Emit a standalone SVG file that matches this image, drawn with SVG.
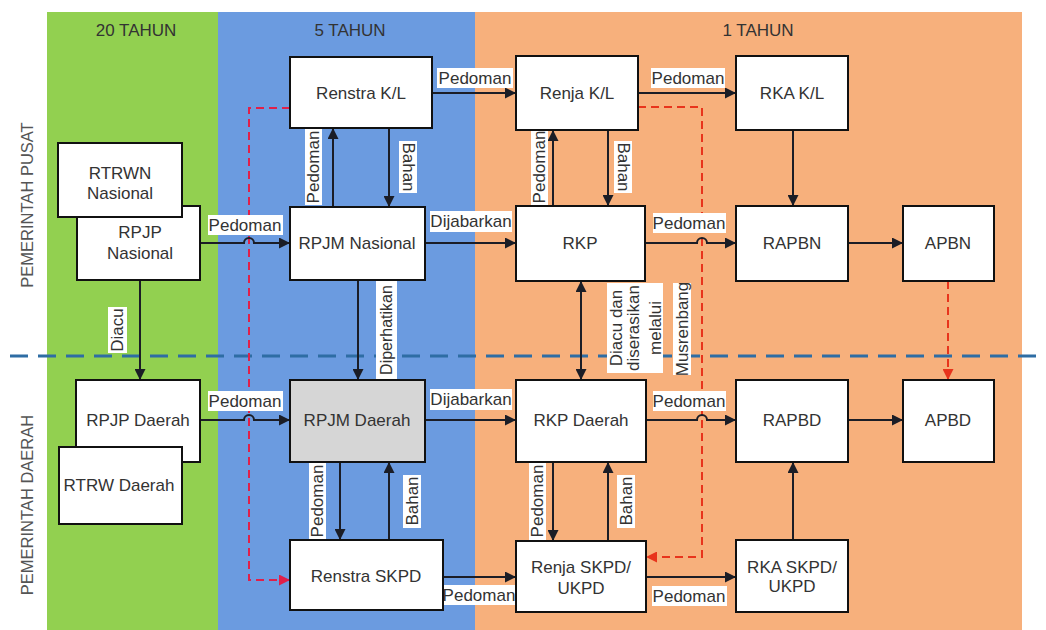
<svg xmlns="http://www.w3.org/2000/svg" width="1046" height="630" viewBox="0 0 1046 630">
<style>
.t{font-family:"Liberation Sans",Arial,sans-serif;font-size:17px;fill:#333;text-anchor:middle;dominant-baseline:central}
.side{font-family:"Liberation Sans",Arial,sans-serif;font-size:16.5px;fill:#555;text-anchor:middle;dominant-baseline:central}
.node rect{fill:#fff;stroke:#111;stroke-width:2}
.node rect.gray{fill:#d6d6d6}
.c{fill:none;stroke:#1b1d26;stroke-width:2}
.rd{fill:none;stroke-width:2;stroke-dasharray:8 5}
.lb{fill:#fff}
</style>
<defs>
<marker id="ah" viewBox="0 0 10 10" refX="10" refY="5" markerWidth="11" markerHeight="11" markerUnits="userSpaceOnUse" orient="auto-start-reverse"><path d="M0,0 L10,5 L0,10 z" fill="#1b1d26"/></marker>
<marker id="ahr" viewBox="0 0 10 10" refX="10" refY="5" markerWidth="11" markerHeight="11" markerUnits="userSpaceOnUse" orient="auto"><path d="M0,0 L10,5 L0,10 z" fill="#e8341c"/></marker>
<marker id="ahp" viewBox="0 0 10 10" refX="10" refY="5" markerWidth="11" markerHeight="11" markerUnits="userSpaceOnUse" orient="auto"><path d="M0,0 L10,5 L0,10 z" fill="#e0204a"/></marker>
</defs>

<g id="background">
<rect x="47" y="12" width="171" height="618" fill="#92d050"/>
<rect x="218" y="12" width="257" height="618" fill="#6b9be0"/>
<rect x="475" y="12" width="547" height="618" fill="#f7b07c"/>
<text class="t" x="136" y="30">20 TAHUN</text>
<text class="t" x="350" y="30">5 TAHUN</text>
<text class="t" x="758" y="30">1 TAHUN</text>
<text class="side" transform="translate(27,205) rotate(-90)">PEMERINTAH PUSAT</text>
<text class="side" transform="translate(27,505) rotate(-90)">PEMERINTAH DAERAH</text>
<line x1="10" y1="356" x2="1046" y2="356" stroke="#2e6da4" stroke-width="3" stroke-dasharray="18 10"/>
</g>

<g id="connectors">
<path class="rd" stroke="#e0204a" d="M290,108 H249 V580 H290" marker-end="url(#ahp)"/>
<path class="rd" stroke="#e8341c" d="M638,107 H702 V557 H646" marker-end="url(#ahr)"/>
<path class="rd" stroke="#e8341c" d="M948,281 V380" marker-end="url(#ahr)"/>
<path class="c" d="M432,93 H516" marker-end="url(#ah)"/>
<path class="c" d="M638,93 H736" marker-end="url(#ah)"/>
<path class="c" d="M333,207 V128" marker-end="url(#ah)"/>
<path class="c" d="M389,128 V207" marker-end="url(#ah)"/>
<path class="c" d="M553,206 V130" marker-end="url(#ah)"/>
<path class="c" d="M608,130 V206" marker-end="url(#ah)"/>
<path class="c" d="M200,243 H244 A5,5 0 0 1 254,243 H290" marker-end="url(#ah)"/>
<path class="c" d="M425,243 H516" marker-end="url(#ah)"/>
<path class="c" d="M645,243 H697 A5,5 0 0 1 707,243 H736" marker-end="url(#ah)"/>
<path class="c" d="M793,130 V206" marker-end="url(#ah)"/>
<path class="c" d="M848,243 H903" marker-end="url(#ah)"/>
<path class="c" d="M140,280 V380" marker-end="url(#ah)"/>
<path class="c" d="M358,280 V380" marker-end="url(#ah)"/>
<path class="c" d="M581,281 V380" marker-start="url(#ah)" marker-end="url(#ah)"/>
<path class="c" d="M200,420 H244 A5,5 0 0 1 254,420 H290" marker-end="url(#ah)"/>
<path class="c" d="M425,420 H516" marker-end="url(#ah)"/>
<path class="c" d="M646,420 H697 A5,5 0 0 1 707,420 H736" marker-end="url(#ah)"/>
<path class="c" d="M848,420 H903" marker-end="url(#ah)"/>
<path class="c" d="M340,462 V540" marker-end="url(#ah)"/>
<path class="c" d="M389,540 V462" marker-end="url(#ah)"/>
<path class="c" d="M553,462 V541" marker-end="url(#ah)"/>
<path class="c" d="M608,541 V462" marker-end="url(#ah)"/>
<path class="c" d="M793,540 V462" marker-end="url(#ah)"/>
<path class="c" d="M443,577 H516" marker-end="url(#ah)"/>
<path class="c" d="M646,577 H736" marker-end="url(#ah)"/>
</g>

<g id="connector-labels">
<rect class="lb" x="437" y="68" width="76" height="20"/><text class="t" x="475" y="78">Pedoman</text>
<rect class="lb" x="651" y="68" width="74" height="20"/><text class="t" x="688" y="78">Pedoman</text>
<rect class="lb" x="208" y="215" width="75" height="20"/><text class="t" x="245" y="225">Pedoman</text>
<rect class="lb" x="430" y="211" width="82" height="21"/><text class="t" x="471" y="221">Dijabarkan</text>
<rect class="lb" x="653" y="213" width="73" height="20"/><text class="t" x="689" y="223">Pedoman</text>
<rect class="lb" x="208" y="391" width="75" height="20"/><text class="t" x="245" y="401">Pedoman</text>
<rect class="lb" x="430" y="389" width="82" height="21"/><text class="t" x="471" y="399">Dijabarkan</text>
<rect class="lb" x="653" y="391" width="73" height="20"/><text class="t" x="689" y="401">Pedoman</text>
<rect class="lb" x="443" y="585" width="73" height="20"/><text class="t" x="479" y="595">Pedoman</text>
<rect class="lb" x="652" y="586" width="75" height="20"/><text class="t" x="689" y="596">Pedoman</text>
<rect class="lb" x="305" y="129" width="17" height="76"/><text class="t" transform="translate(313.5,167) rotate(-90)">Pedoman</text>
<rect class="lb" x="399" y="141" width="18" height="52"/><text class="t" transform="translate(408,167) rotate(90)">Bahan</text>
<rect class="lb" x="531" y="129" width="17" height="76"/><text class="t" transform="translate(539.5,167) rotate(-90)">Pedoman</text>
<rect class="lb" x="614" y="141" width="18" height="52"/><text class="t" transform="translate(623,167) rotate(90)">Bahan</text>
<rect class="lb" x="309" y="463" width="17" height="77"/><text class="t" transform="translate(317.5,501) rotate(-90)">Pedoman</text>
<rect class="lb" x="403" y="475" width="18" height="53"/><text class="t" transform="translate(412,501) rotate(-90)">Bahan</text>
<rect class="lb" x="529" y="463" width="17" height="77"/><text class="t" transform="translate(537.5,501) rotate(-90)">Pedoman</text>
<rect class="lb" x="617" y="475" width="18" height="53"/><text class="t" transform="translate(626,501) rotate(-90)">Bahan</text>
<rect class="lb" x="108" y="307" width="19" height="46"/><text class="t" transform="translate(117.5,330) rotate(-90)">Diacu</text>
<rect class="lb" x="376" y="280" width="21" height="100"/><text class="t" style="font-size:16px" transform="translate(386.5,330) rotate(-90)">Diperhatikan</text>
<rect class="lb" x="607" y="283" width="56" height="90"/>
<rect class="lb" x="673" y="283" width="18" height="92"/>
<text class="t" transform="translate(616,328) rotate(-90)">Diacu dan</text>
<text class="t" transform="translate(633,328) rotate(-90)">diserasikan</text>
<text class="t" transform="translate(655,328) rotate(-90)">melalui</text>
<text class="t" transform="translate(682,329) rotate(-90)">Musrenbang</text>
</g>

<g id="n-rpjp-nasional" class="node"><rect x="77" y="206" width="123" height="74"/><text class="t" x="140" y="232">RPJP</text><text class="t" x="140" y="253">Nasional</text></g>
<g id="n-rtrwn-nasional" class="node"><rect x="58" y="143" width="124" height="74"/><text class="t" x="120" y="173">RTRWN</text><text class="t" x="120" y="193">Nasional</text></g>
<g id="n-renstra-kl" class="node"><rect x="290" y="57" width="142" height="71"/><text class="t" x="361" y="93">Renstra K/L</text></g>
<g id="n-rpjm-nasional" class="node"><rect x="290" y="207" width="135" height="73"/><text class="t" x="357" y="243">RPJM Nasional</text></g>
<g id="n-renja-kl" class="node"><rect x="516" y="56" width="122" height="74"/><text class="t" x="577" y="93">Renja K/L</text></g>
<g id="n-rkp" class="node"><rect x="516" y="206" width="129" height="75"/><text class="t" x="580" y="243">RKP</text></g>
<g id="n-rka-kl" class="node"><rect x="736" y="56" width="112" height="74"/><text class="t" x="792" y="93">RKA K/L</text></g>
<g id="n-rapbn" class="node"><rect x="736" y="206" width="112" height="75"/><text class="t" x="792" y="243">RAPBN</text></g>
<g id="n-apbn" class="node"><rect x="903" y="206" width="91" height="75"/><text class="t" x="948" y="243">APBN</text></g>
<g id="n-rpjp-daerah" class="node"><rect x="76" y="380" width="124" height="82"/><text class="t" x="138" y="420">RPJP Daerah</text></g>
<g id="n-rtrw-daerah" class="node"><rect x="59" y="447" width="123" height="77"/><text class="t" x="119" y="485">RTRW Daerah</text></g>
<g id="n-rpjm-daerah" class="node"><rect class="gray" x="290" y="380" width="135" height="82"/><text class="t" x="357" y="420">RPJM Daerah</text></g>
<g id="n-rkp-daerah" class="node"><rect x="516" y="380" width="130" height="82"/><text class="t" x="581" y="420">RKP Daerah</text></g>
<g id="n-rapbd" class="node"><rect x="736" y="380" width="112" height="82"/><text class="t" x="792" y="420">RAPBD</text></g>
<g id="n-apbd" class="node"><rect x="903" y="380" width="91" height="82"/><text class="t" x="948" y="420">APBD</text></g>
<g id="n-renstra-skpd" class="node"><rect x="290" y="540" width="153" height="70"/><text class="t" x="366" y="576">Renstra SKPD</text></g>
<g id="n-renja-skpd" class="node"><rect x="516" y="541" width="130" height="71"/><text class="t" x="581" y="567">Renja SKPD/</text><text class="t" x="581" y="588">UKPD</text></g>
<g id="n-rka-skpd" class="node"><rect x="736" y="540" width="112" height="72"/><text class="t" x="792" y="567">RKA SKPD/</text><text class="t" x="792" y="586">UKPD</text></g>
</svg>
